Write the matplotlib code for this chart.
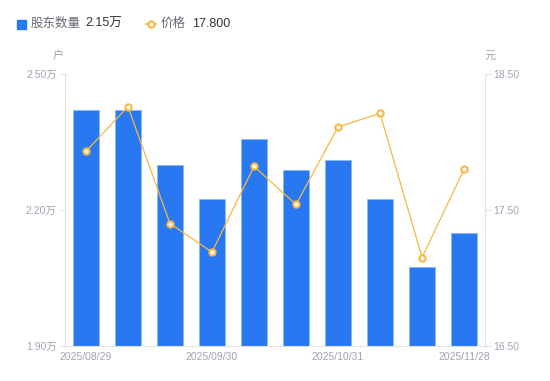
import matplotlib.pyplot as plt
from matplotlib.lines import Line2D
from matplotlib.patches import Rectangle

plt.rcParams['font.family'] = ['Liberation Sans', 'Noto Sans CJK SC', 'DejaVu Sans']

dates = ['2025/08/29', '2025/09/15', '2025/09/22', '2025/09/30', '2025/10/15',
         '2025/10/20', '2025/10/31', '2025/11/10', '2025/11/20', '2025/11/28']
holders = [2.42, 2.42, 2.30, 2.224, 2.357, 2.288, 2.31, 2.224, 2.074, 2.15]  # 万户
price = [17.93, 18.26, 17.40, 17.19, 17.82, 17.54, 18.11, 18.21, 17.15, 17.80]
shown_ticks = [0, 3, 6, 9]

bar_color = '#2878f2'
line_color = '#f8b740'
tick_color = '#a0a3b1'
axis_color = '#e3e3e6'

fig = plt.figure(figsize=(5.5, 3.81), dpi=100)
ax = fig.add_axes([0.118, 0.092, 0.764, 0.714])
ax2 = ax.twinx()

x = list(range(len(dates)))
ax.bar(x, holders, width=0.6, color=bar_color, edgecolor='#8db8f8', linewidth=0.6, zorder=2)
ax2.plot(x, price, color=line_color, lw=0.9, marker='o', markersize=4.5,
         markerfacecolor='white', markeredgecolor=line_color, markeredgewidth=1.5, zorder=3)

ax.set_xlim(-0.5, len(dates) - 0.5)
ax.set_ylim(1.90, 2.50)
ax2.set_ylim(16.50, 18.50)

ax.set_yticks([1.90, 2.20, 2.50])
ax.set_yticklabels([f'{v:.2f}万' for v in [1.90, 2.20, 2.50]])
ax2.set_yticks([16.50, 17.50, 18.50])
ax2.set_yticklabels([f'{v:.2f}' for v in [16.50, 17.50, 18.50]])
ax.set_xticks(shown_ticks)
ax.set_xticklabels([dates[i] for i in shown_ticks])

for a in (ax, ax2):
    for s in a.spines.values():
        s.set_visible(False)
ax.spines['left'].set_visible(True)
ax.spines['left'].set_color(axis_color)
ax.spines['bottom'].set_visible(True)
ax.spines['bottom'].set_color(axis_color)
ax2.spines['right'].set_visible(True)
ax2.spines['right'].set_color(axis_color)

ax.tick_params(axis='y', colors=axis_color, labelcolor=tick_color, labelsize=7.5, length=4, width=0.8, pad=2)
ax2.tick_params(axis='y', colors=axis_color, labelcolor=tick_color, labelsize=7.5, length=4, width=0.8, pad=2)
ax.tick_params(axis='x', length=0, labelcolor=tick_color, labelsize=7.5, pad=4)

fig.text(58 / 550, 1 - 56 / 381, '户', color=tick_color, fontsize=8, ha='center', va='center')
fig.text(490 / 550, 1 - 56 / 381, '元', color=tick_color, fontsize=8, ha='center', va='center')

# custom legend
fig.patches.append(Rectangle((17 / 550, 1 - 29 / 381), 9 / 550, 9 / 381, transform=fig.transFigure,
                             color=bar_color, figure=fig))
fig.text(31 / 550, 1 - 24 / 381, '股东数量', color='#666a75', fontsize=9, va='center')
fig.text(85 / 550, 1 - 24 / 381, f'{holders[-1]:.2f}万', color='#333333', fontsize=9, va='center')
fig.lines.append(Line2D([146 / 550, 156 / 550], [1 - 24 / 381] * 2, transform=fig.transFigure,
                        color=line_color, lw=1.2))
fig.lines.append(Line2D([151 / 550], [1 - 24 / 381], transform=fig.transFigure, color=line_color,
                        marker='o', markersize=4.5, markerfacecolor='white', markeredgewidth=1.5))
fig.text(161 / 550, 1 - 24 / 381, '价格', color='#666a75', fontsize=9, va='center')
fig.text(192 / 550, 1 - 24 / 381, f'{price[-1]:.3f}', color='#333333', fontsize=9, va='center')

plt.savefig('out.png', dpi=100)
